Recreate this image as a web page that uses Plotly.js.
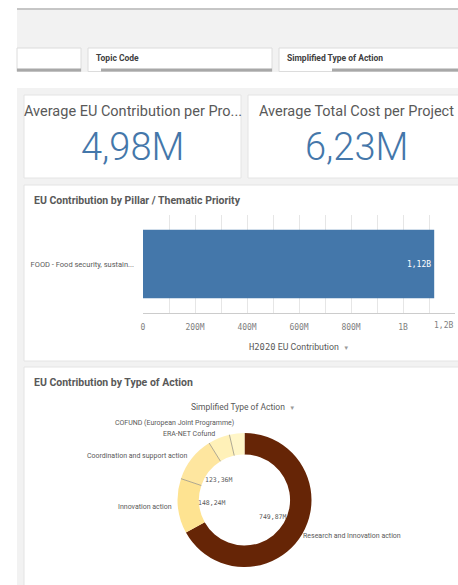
<!DOCTYPE html>
<html><head><meta charset="utf-8">
<script src="https://cdn.plot.ly/plotly-3.0.1.min.js"></script>
<style>html,body{margin:0;padding:0;background:#fff;overflow:hidden}#chart{width:458px;height:585px}</style>
</head><body><div id="chart"></div>
<script>
// ---------- data ----------
const filterLabels = ['', 'Topic Code', 'Simplified Type of Action'];
const kpiTitles = ['Average EU Contribution per Pro...', 'Average Total Cost per Project'];
const kpiValuesM = [4.98, 6.23];
const pillarCategories = ['FOOD - Food security, sustain...'];
const pillarContribution = [1.12e9];
const xTickValues = [0, 2e8, 4e8, 6e8, 8e8, 1e9, 1.2e9];
const xTickLabels = ['0', '200M', '400M', '600M', '800M', '1B', '1,2B'];
const actionTypes = ['Research and Innovation action', 'Innovation action', 'Coordination and support action', 'ERA-NET Cofund', 'COFUND (European Joint Programme)'];
const actionContributionM = [749.87, 148.24, 123.36, 58.5, 40.5];
const actionColors = ['#662506', '#fee391', '#fee69f', '#fff1b8', '#fff6c8'];

// ---------- helpers ----------
const W = 458, H = 585;
const FONT = 'Roboto, "Noto Sans", sans-serif';
const MONO = '"DejaVu Sans Mono", "Liberation Mono", monospace';
const px = x => x / W, py = y => 1 - y / H;
const fmtComma = (v, d) => v.toFixed(d).replace('.', ',');
function rect(x0, y0, x1, y1, fill, line, lw) {
  return {type: 'rect', xref: 'paper', yref: 'paper', x0: px(x0), x1: px(x1), y0: py(y1), y1: py(y0),
    fillcolor: fill, line: {color: line || fill, width: lw || 0}, layer: 'below'};
}
function txt(x, y, t, size, color, anchor, family, weight) {
  const f = {size: size, color: color, family: family || FONT};
  if (weight) f.weight = weight;
  return {xref: 'paper', yref: 'paper', x: px(x), y: py(y), text: t, showarrow: false,
    xanchor: anchor || 'left', yanchor: 'middle', font: f};
}

const shapes = [];
const annotations = [];

// top bar & filter strip
shapes.push({type: 'line', xref: 'paper', yref: 'paper', x0: px(17), x1: px(458), y0: py(9), y1: py(9), line: {color: '#8c8c8c', width: 1}, layer: 'below'});
shapes.push(rect(17, 10, 458, 72, '#f2f2f2'));
const boxes = [[17, 81, 17], [88, 272, 101], [279, 470, 332]];
boxes.forEach((b, i) => {
  shapes.push(rect(b[0], 48, b[1], 71.5, '#ffffff', '#dcdcdc', 1));
  shapes.push(rect(b[2], 68.5, b[1], 71.5, '#a8a8a8'));
  if (filterLabels[i]) annotations.push(txt(b[0] + 6, 58.5, '<b>' + filterLabels[i] + '</b>', 8.5, '#404040'));
});

// sheet background and cards
shapes.push(rect(17, 88, 458, 600, '#f2f2f2'));
shapes.push(rect(24, 95, 241, 178, '#ffffff', '#e4e4e4', 1));
shapes.push(rect(248, 95, 470, 178, '#ffffff', '#e4e4e4', 1));
shapes.push(rect(24, 185, 470, 361, '#ffffff', '#e4e4e4', 1));
shapes.push(rect(24, 367, 470, 610, '#ffffff', '#e4e4e4', 1));

// KPI texts
const kpiCenters = [132.5, 356.5];
kpiTitles.forEach((t, i) => {
  annotations.push(txt(kpiCenters[i], 112, t, 14.5, '#595959', 'center'));
  annotations.push(txt(kpiCenters[i], 147, fmtComma(kpiValuesM[i], 2) + 'M', 38, '#4477aa', 'center', FONT, 300));
});

// Panel titles
annotations.push(txt(32, 200, '<b>EU Contribution by Pillar / Thematic Priority</b>', 10.5, '#595959'));
annotations.push(txt(32, 382, '<b>EU Contribution by Type of Action</b>', 10.5, '#595959'));

// bar axis title
annotations.push(txt(299, 347, '<span style="font-family:' + "'DejaVu Sans Mono'" + '">H2020</span> EU Contribution  <span style="font-size:6px;color:#9a9a9a">▼</span>', 8.8, '#595959', 'center'));

// last x tick label: right-aligned to its gridline (as in the original)
const lastIdx = xTickLabels.length - 1;
annotations.push({xref: 'x', yref: 'paper', x: xTickValues[lastIdx], y: py(325.5), text: xTickLabels[lastIdx],
  showarrow: false, xanchor: 'right', yanchor: 'middle', font: {family: MONO, size: 8, color: '#808080'}});

// donut legend title
annotations.push(txt(243, 407, 'Simplified Type of Action  <span style="font-size:6px;color:#9a9a9a">▼</span>', 8.5, '#595959', 'center'));

// ---------- donut geometry ----------
const cx = 244.5, cy = 500, R = 67, HOLE = 0.68;
const total = actionContributionM.reduce((a, b) => a + b, 0);
let cum = 0;
const starts = [], mids = [];
actionContributionM.forEach(v => {
  starts.push(cum / total * 360);
  mids.push((cum + v / 2) / total * 360);
  cum += v;
});
const rad = d => d * Math.PI / 180;
// separators between light slices
for (let i = 2; i < actionContributionM.length; i++) {
  const a = rad(starts[i]);
  shapes.push({type: 'line', xref: 'paper', yref: 'paper',
    x0: px(cx + R * HOLE * Math.sin(a)), y0: py(cy - R * HOLE * Math.cos(a)),
    x1: px(cx + R * Math.sin(a)), y1: py(cy - R * Math.cos(a)),
    line: {color: '#9b9585', width: 0.8}, layer: 'above'});
}
// value labels inside hole and outer category labels
let lastLeftY = null;
actionContributionM.forEach((v, i) => {
  const a = rad(mids[i]);
  if (v / total > 0.08) {
    annotations.push(txt(cx + 33 * Math.sin(a), cy - 33 * Math.cos(a), fmtComma(v, 2) + 'M', 6.5, '#595959', 'center', MONO));
  }
  const right = Math.sin(a) > 0;
  const r = right ? R - 1 : R + 4;
  let lx = cx + r * Math.sin(a), ly = cy - r * Math.cos(a) + (right ? 3 : 0);
  if (!right) {
    if (lastLeftY !== null && lastLeftY - ly < 11) ly = lastLeftY - 11;
    lastLeftY = ly;
  }
  annotations.push(txt(lx, ly, actionTypes[i], 7, '#595959', right ? 'left' : 'right'));
});

// ---------- traces ----------
const barTrace = {
  type: 'bar', orientation: 'h', x: pillarContribution, y: pillarCategories,
  marker: {color: '#4477aa', line: {width: 0}}, width: 0.7,
  text: pillarContribution.map(v => fmtComma(v / 1e9, 2) + 'B'),
  textposition: 'inside', insidetextanchor: 'end', textangle: 0,
  insidetextfont: {color: '#ffffff', size: 8, family: MONO},
  hoverinfo: 'skip', xaxis: 'x', yaxis: 'y', showlegend: false
};
const pieTrace = {
  type: 'pie', values: actionContributionM, labels: actionTypes,
  marker: {colors: actionColors, line: {width: 0}},
  hole: HOLE, sort: false, direction: 'clockwise', rotation: 0,
  textinfo: 'none', hoverinfo: 'skip', showlegend: false,
  domain: {x: [px(cx - R), px(cx + R)], y: [py(cy + R), py(cy - R)]}
};

// axis draws all tick labels but the last one, which is the annotation above
const shownTickText = xTickLabels.map((t, i) => i === lastIdx ? '' : t);

const layout = {
  width: W, height: H, margin: {l: 0, r: 0, t: 0, b: 0},
  paper_bgcolor: '#ffffff', plot_bgcolor: 'rgba(0,0,0,0)',
  showlegend: false, font: {family: FONT},
  xaxis: {domain: [px(143), px(455)], range: [0, 1.2e9], tickmode: 'array', tickvals: xTickValues, ticktext: shownTickText,
    showgrid: true, gridcolor: '#e6e6e6', gridwidth: 1,
    minor: {dtick: 1e8, tick0: 0, showgrid: true, gridcolor: '#e6e6e6', gridwidth: 1},
    showline: true, linecolor: '#cccccc', zeroline: false, ticks: '',
    tickfont: {family: MONO, size: 8, color: '#808080'}, ticklabelstandoff: 6, ticklabeloverflow: 'allow',
    fixedrange: true, anchor: 'y'},
  yaxis: {domain: [py(313), py(215)], type: 'category', range: [-0.5, 0.5],
    tickfont: {family: FONT, size: 7.5, color: '#595959'}, ticks: '', showgrid: false, zeroline: false,
    showline: false, ticklabelstandoff: 8, fixedrange: true, anchor: 'x'},
  shapes: shapes, annotations: annotations
};

Plotly.newPlot('chart', [barTrace, pieTrace], layout, {displayModeBar: false, staticPlot: true});
</script>
</body></html>
